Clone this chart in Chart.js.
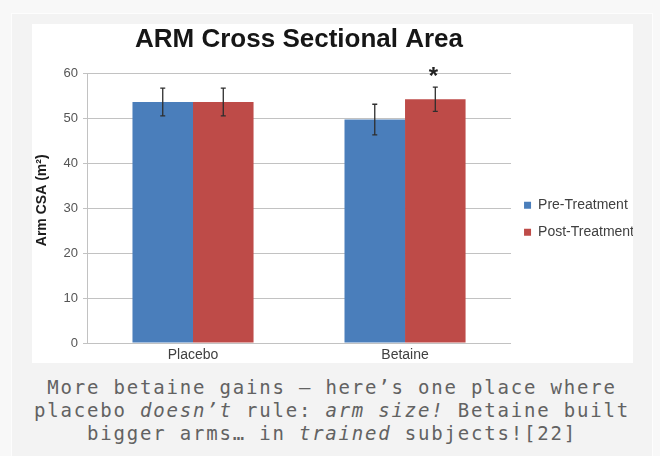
<!DOCTYPE html>
<html>
<head>
<meta charset="utf-8">
<script src="https://cdn.jsdelivr.net/npm/chart.js@4/dist/chart.umd.min.js"></script>
<style>
  html, body { margin: 0; padding: 0; background: #f8f8f8; }
  body { width: 660px; height: 456px; overflow: hidden; position: relative; }
  .card {
    position: absolute; left: 11px; top: 13px; width: 642px; height: 460px;
    background: #f3f3f3; border: 1px solid #fdfdfd; box-sizing: border-box;
  }
  .plot {
    position: absolute; left: 20px; top: 10px; width: 601px; height: 339px;
    background: #fff; overflow: hidden;
  }
  .caption {
    position: absolute; left: 0; top: 362px; width: 640px; text-align: center;
    font-family: "DejaVu Sans Mono", monospace; font-size: 19px; line-height: 23px;
    letter-spacing: 1.8px; color: #626262;
  }
</style>
</head>
<body>
<div class="card">
  <div class="plot"><canvas id="myChart" width="612" height="339"></canvas></div>
  <div class="caption">More betaine gains – here’s one place where<br>placebo <i>doesn’t</i> rule: <i>arm size!</i> Betaine built<br>bigger arms… in <i>trained</i> subjects![22]</div>
</div>
<script>
const categories = ['Placebo', 'Betaine']
const preValues = [53.6, 49.7]
const postValues = [53.6, 54.2]
const preErrors = [3.1, 3.4]
const postErrors = [3.1, 2.7]
const postMarks = ['', '*']
const yTicks = [0, 10, 20, 30, 40, 50, 60]

const errorBars = {
  id: 'errorBars',
  afterDatasetsDraw(chart) {
    const ctx = chart.ctx
    const y = chart.scales.y
    chart.data.datasets.forEach((ds, i) => {
      const meta = chart.getDatasetMeta(i)
      meta.data.forEach((bar, j) => {
        const v = ds.data[j], e = ds.errors[j]
        const top = y.getPixelForValue(v + e)
        const bot = y.getPixelForValue(v - e)
        ctx.save()
        ctx.strokeStyle = '#2e2e2e'
        ctx.lineWidth = 1.3
        ctx.beginPath()
        ctx.moveTo(bar.x, top); ctx.lineTo(bar.x, bot)
        ctx.moveTo(bar.x - 2.5, top); ctx.lineTo(bar.x + 2.5, top)
        ctx.moveTo(bar.x - 2.5, bot); ctx.lineTo(bar.x + 2.5, bot)
        ctx.stroke()
        // significance mark
        if (ds.marks && ds.marks[j]) {
          ctx.fillStyle = '#222'
          ctx.font = 'bold 24px "Liberation Sans", Arial, sans-serif'
          ctx.textAlign = 'center'
          ctx.textBaseline = 'alphabetic'
          ctx.fillText(ds.marks[j], bar.x - 2, y.getPixelForValue(60) + 11)
        }
        ctx.restore()
      })
    })
  }
}

const ctx = document.getElementById('myChart')
const myChart = new Chart(ctx, {
  type: 'bar',
  data: {
    labels: categories,
    datasets: [
      {
        label: 'Pre-Treatment',
        data: preValues,
        errors: preErrors,
        backgroundColor: '#4a7ebb',
        categoryPercentage: 0.571,
        barPercentage: 1.0,
      },
      {
        label: 'Post-Treatment',
        data: postValues,
        errors: postErrors,
        marks: postMarks,
        backgroundColor: '#be4b48',
        categoryPercentage: 0.571,
        barPercentage: 1.0,
      },
    ],
  },
  options: {
    responsive: false,
    animation: false,
    layout: { padding: 0 },
    plugins: {
      title: {
        display: true,
        text: 'ARM Cross Sectional Area',
        fullSize: false,
        color: '#161616',
        font: { family: '"Liberation Sans", Arial, sans-serif', size: 26, weight: 'bold' },
        padding: { top: 0, bottom: 18 },
      },
      legend: {
        position: 'right',
        fullSize: false,
        title: { display: true, text: ' ', font: { size: 1 }, padding: { top: 10, bottom: 10 } },
        labels: {
          boxWidth: 7,
          boxHeight: 7,
          padding: 13,
          color: '#404040',
          font: { family: '"Liberation Sans", Arial, sans-serif', size: 14 },
        },
      },
      tooltip: { enabled: false },
    },
    scales: {
      x: {
        grid: { display: false, drawTicks: false, tickLength: 0 },
        border: { display: false },
        ticks: {
          padding: 4,
          color: '#404040',
          font: { family: '"Liberation Sans", Arial, sans-serif', size: 14 },
        },
        afterFit(scale) { scale.height = 20 },
      },
      y: {
        min: 0,
        max: 60,
        afterBuildTicks(scale) { scale.ticks = yTicks.map(v => ({ value: v })) },
        grid: { color: '#c2c2c2', lineWidth: 1, tickLength: 4 },
        border: { display: true, color: '#c2c2c2' },
        ticks: {
          padding: 5,
          color: '#555',
          font: { family: '"Liberation Sans", Arial, sans-serif', size: 13 },
        },
        title: {
          display: true,
          text: '    Arm CSA (m²)',
          color: '#1c1c1c',
          padding: { top: 2, bottom: 0 },
          font: { family: '"Liberation Sans", Arial, sans-serif', size: 14, weight: 'bold' },
        },
        afterFit(scale) { scale.width = 55 },
      },
    },
  },
  plugins: [errorBars],
})
</script>
</body>
</html>
